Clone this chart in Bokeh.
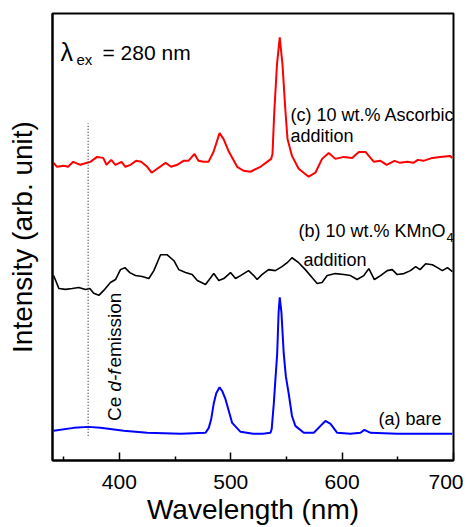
from math import pi
from bokeh.plotting import figure
from bokeh.models import Range1d, FixedTicker, Label
from bokeh.embed import file_html
from bokeh.resources import INLINE

# ---------------- data ----------------
# (c) 10 wt.% Ascorbic addition  (red)
wl_c = [341, 344, 350, 354, 358.6, 365, 371, 374, 380, 385.5, 388.5, 392.7, 396.5, 402,
        405.5, 410, 415, 419.6, 425, 429, 434, 441.5, 446.5, 452, 457.6, 462, 467.5, 471,
        475.6, 480, 484.5, 490, 493.6, 498, 505.8, 511.5, 517.7, 526.7, 532.7, 536.3,
        537.5, 539, 541.5, 544, 546.5, 549, 551, 555, 561, 570, 576, 582, 588, 594,
        601.5, 609, 615, 621, 628.5, 634.5, 640, 647, 652, 658.5, 664, 668, 673, 681,
        688, 696.7, 699]
int_c = [301, 297, 298, 297, 302, 299, 301, 302, 307, 306, 299, 304, 299, 302,
         297, 299, 303, 302, 297, 291, 295, 301, 297, 299, 303, 303, 310, 303,
         302, 302, 312, 331, 325, 313, 297, 293, 292, 297, 302, 305,
         310, 350, 400, 428, 400, 355, 325, 308, 295, 287, 291, 305, 311, 305,
         307, 306, 312, 312, 302, 303, 299, 303, 301, 302, 301, 304, 303, 306,
         307, 308, 306]

# (b) 10 wt.% KMnO4 addition  (black)
wl_b = [341, 345.7, 351.7, 357.7, 363.6, 369.6, 373.5, 377, 381.6, 386, 392, 396.6, 401,
        405, 409.4, 414.5, 420.5, 426.5, 431, 437, 443, 449, 453.4, 459.4, 465.4, 470,
        477.4, 484.8, 489.3, 493.8, 499.8, 504.3, 508.8, 516, 520.7, 523.7, 528, 534,
        540, 546, 550.7, 555, 561, 567, 573, 577.6, 582, 586.6, 594, 601.5, 607.5,
        613.5, 619.5, 624, 629, 634.5, 640.5, 645, 649.5, 655.5, 661.4, 666, 670, 675,
        681, 685.6, 690, 694.6, 699]
int_b = [187, 174, 173, 174, 175, 173, 174, 169, 167, 172, 180, 183, 193,
         195, 190, 187, 186, 184, 192, 208, 208, 202, 193, 190, 188, 182,
         178, 189, 182, 184, 190, 184, 187, 192, 187, 183, 188, 193,
         192, 196, 200, 205, 200, 193, 185, 179, 180, 187, 189, 188, 187,
         183, 187, 194, 183, 187, 192, 193, 188, 189, 192, 196, 193, 199,
         198, 195, 192, 195, 191]

# (a) bare  (blue)
wl_a = [341, 359, 372.6, 383, 404, 425, 455, 477.4, 480.3, 482.5, 484.8, 487, 490, 492.5,
        495.3, 501.3, 508.8, 520, 529, 535.7, 536.8, 538.7, 540, 541.7, 543, 544, 545.5,
        547.6, 549.5, 552, 555, 558, 565.6, 574.6, 580.6, 585, 589.6, 595.6, 607.5,
        616.5, 620, 625.5, 649.5, 699]
int_a = [30, 33, 34, 33, 30, 28, 27, 28, 33, 42, 58, 68, 74, 70,
         62, 38, 29, 27, 27, 28, 32, 58, 80, 108, 150, 165, 150,
         108, 85, 68, 45, 35, 28, 28, 35, 40, 37, 28, 27,
         28, 31, 28, 27, 27]

ce_df_wavelength = 372
ce_df_span = [25, 341]

x_major = [400, 500, 600, 700]
x_minor = [350, 450, 550, 650]

FONT = "Liberation Sans"

p = figure(width=463, height=527, output_backend="svg", toolbar_location=None,
           x_range=Range1d(340, 700), y_range=Range1d(0, 452),
           min_border_left=52, min_border_right=10, min_border_top=13,
           min_border_bottom=62)

p.grid.visible = False
p.outline_line_color = "black"
p.outline_line_width = 2
p.background_fill_color = "white"
p.border_fill_color = "white"

# x axis
xa = p.xaxis[0]
xa.ticker = FixedTicker(ticks=x_major, minor_ticks=x_minor)
xa.axis_line_width = 2
xa.axis_line_color = "black"
xa.major_tick_in = 8
xa.major_tick_out = 0
xa.minor_tick_in = 4
xa.minor_tick_out = 0
xa.major_tick_line_width = 1.5
xa.minor_tick_line_width = 1.5
xa.major_tick_line_color = "black"
xa.minor_tick_line_color = "black"
xa.major_label_text_font = FONT
xa.major_label_text_font_size = "21px"
xa.major_label_text_color = "black"
xa.major_label_standoff = 14
xa.axis_label = "Wavelength (nm)"
xa.axis_label_text_font = FONT
xa.axis_label_text_font_size = "28px"
xa.axis_label_text_font_style = "normal"
xa.axis_label_text_color = "black"
xa.axis_label_standoff = 2

# y axis
ya = p.yaxis[0]
ya.ticker = FixedTicker(ticks=[])
ya.axis_line_width = 2
ya.axis_line_color = "black"
ya.major_tick_out = 0
ya.major_tick_in = 0
ya.minor_tick_out = 0
ya.major_label_standoff = 0
ya.axis_label = "Intensity (arb. unit)"
ya.axis_label_text_font = FONT
ya.axis_label_text_font_size = "28px"
ya.axis_label_text_font_style = "normal"
ya.axis_label_text_color = "black"
ya.axis_label_standoff = 15

# curves
p.line(wl_c, int_c, line_color="#ff0000", line_width=2)
p.line(wl_b, int_b, line_color="black", line_width=1.6)
p.line(wl_a, int_a, line_color="#0000ff", line_width=2)

# dotted marker for Ce d-f emission
p.segment(x0=[ce_df_wavelength], y0=[ce_df_span[0]], x1=[ce_df_wavelength],
          y1=[ce_df_span[1]], line_color="#333333", line_width=1.2, line_dash="1 2")


def lab(x, y, t, size, **kw):
    opts = dict(text_font=FONT, text_font_size=size, text_color="black",
                text_baseline="alphabetic", text_align="left")
    opts.update(kw)
    p.add_layout(Label(x=x, y=y, text=t, **opts))


# excitation label
lab(347.2, 413, "λ", "25px")
lab(361.5, 405, "ex", "15px")
lab(384.9, 413, "= 280 nm", "21px")

# curve labels
lab(553.7, 349, "(c) 10 wt.% Ascorbic", "18px")
lab(553.7, 328, "addition", "18px")
lab(560.8, 232, "(b) 10 wt.% KMnO", "18px")
lab(693.7, 225, "4", "13px")
lab(565.3, 203, "addition", "18px")
lab(632.7, 42, "(a) bare", "18px")

# rotated Ce d-f emission
lab(395.7, 40, "Ce", "19px", angle=pi / 2)
lab(395.7, 69.6, "d-f", "19px", angle=pi / 2, text_font_style="italic")
lab(395.7, 94, "emission", "19px", angle=pi / 2)

open("out.html", "w").write(file_html(p, INLINE))
